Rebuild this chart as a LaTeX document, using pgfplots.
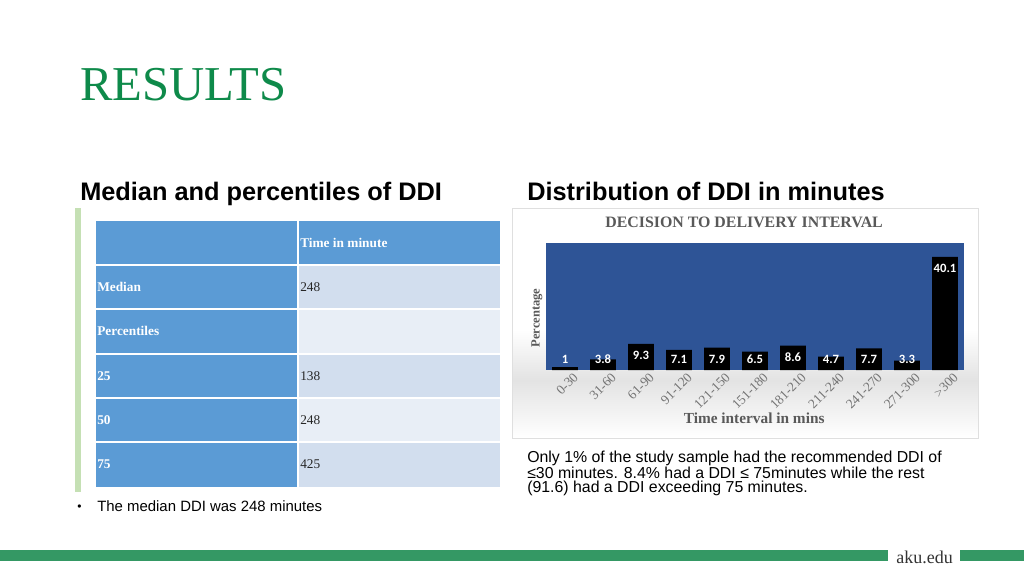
\documentclass[border=0pt]{standalone}
\usepackage{fontspec}
\setmainfont{Liberation Sans}
\newfontfamily\serif{Liberation Serif}
\newfontfamily\carlito{Carlito}
\usepackage{pgfplots}
\usepackage{pgfplotstable}
\pgfplotsset{compat=1.18}

\definecolor{titlegreen}{RGB}{14,138,74}
\definecolor{bandgreen}{RGB}{52,152,100}
\definecolor{sidegreen}{RGB}{197,224,180}
\definecolor{tblue}{RGB}{91,155,213}
\definecolor{rowA}{RGB}{210,222,238}
\definecolor{rowB}{RGB}{232,238,246}
\definecolor{chartblue}{RGB}{46,84,150}
\definecolor{labelgray}{RGB}{89,89,89}
\definecolor{tickgray}{RGB}{115,115,115}

% percentage of deliveries per interval
\pgfplotstableread{
x pct
0 1
1 3.8
2 9.3
3 7.1
4 7.9
5 6.5
6 8.6
7 4.7
8 7.7
9 3.3
10 40.1
}\ddidata

\begin{document}
\begin{tikzpicture}[x=0.75pt,y=-0.75pt]
\useasboundingbox[fill=white] (0,0) rectangle (1024,576);

% headings
\node[anchor=base west, inner sep=0, text=titlegreen,
  font=\serif\fontsize{36.5}{36}\selectfont] at (80,100) {RESULTS};
\node[anchor=base west, inner sep=0, font=\bfseries\fontsize{19}{19}\selectfont]
  at (80,200) {Median and percentiles of DDI};
\node[anchor=base west, inner sep=0, font=\bfseries\fontsize{19}{19}\selectfont]
  at (527,200) {Distribution of DDI in minutes};

% table on the left
\fill[sidegreen] (75,208) rectangle (81,492);
\fill[tblue] (96,221) rectangle (298,487);
\fill[tblue] (298,221) rectangle (500,265);
\fill[rowA] (298,265) rectangle (500,309);
\fill[rowB] (298,309) rectangle (500,354);
\fill[rowA] (298,354) rectangle (500,398);
\fill[rowB] (298,398) rectangle (500,442);
\fill[rowA] (298,442) rectangle (500,487);
\foreach \yy in {265,309,354,398,442}
  \draw[white, line width=0.8pt] (96,\yy) -- (500,\yy);
\draw[white, line width=0.8pt] (298,221) -- (298,487);
\foreach \yy/\lab/\val in {243/{}/{}, 287/Median/248, 331/Percentiles/{}, 376/25/138, 420/50/248, 464/75/425}{
  \node[anchor=west, inner sep=0, text=white, font=\serif\bfseries\fontsize{10}{12}\selectfont] at (97,\yy) {\lab};
  \node[anchor=west, inner sep=0, text=black!85, font=\serif\fontsize{10}{12}\selectfont] at (300,\yy) {\val};
}
\node[anchor=west, inner sep=0, text=white, font=\serif\bfseries\fontsize{10}{12}\selectfont] at (300,243) {Time in minute};

\node[anchor=base west, inner sep=0, font=\fontsize{9}{10}\selectfont] at (77,510) {\textbullet};
\node[anchor=base west, inner sep=0, font=\fontsize{11.2}{13}\selectfont] at (97,511) {The median DDI was 248 minutes};

% chart frame
\fill[white] (512,208) rectangle (978,330);
\shade[top color=white, bottom color=gray!22] (512,330) rectangle (978,380);
\shade[top color=gray!22, bottom color=white] (512,380) rectangle (978,438);
\draw[gray!25] (512,208) rectangle (978,438);

\begin{axis}[
  at={(409.5pt,-277.5pt)}, anchor=south west,
  width=313.5pt, height=95.25pt, scale only axis,
  xmin=-0.5, xmax=10.5, ymin=0, ymax=45,
  clip=false,
  axis background/.style={fill=chartblue},
  axis line style={draw=none},
  ybar, bar width=0.68,
  xtick={0,...,10},
  xticklabels={0-30,31-60,61-90,91-120,121-150,151-180,181-210,211-240,241-270,271-300,>300},
  x tick label style={rotate=45, anchor=north east, inner sep=0pt,
    xshift=3pt, yshift=-5pt,
    text=tickgray, font=\serif\fontsize{10}{10}\selectfont},
  major tick length=0pt,
  ytick=\empty,
  /pgf/number format/assume math mode=true,
  visualization depends on={y \as \rawy},
  nodes near coords={\pgfmathprintnumber{\pgfplotspointmeta}},
  every node near coord/.append style={anchor=center, text=white,
    font=\carlito\bfseries\fontsize{9.5}{10}\selectfont,
    yshift={(max(\rawy-4.07,3.72)-\rawy)*2.1167pt}},
  every axis title shift=0pt,
  title={DECISION TO DELIVERY INTERVAL},
  title style={at={(axis description cs:0.474,1.165)}, anchor=center,
    text=labelgray, font=\serif\bfseries\fontsize{11.9}{12}\selectfont},
  xlabel={Time interval in mins},
  xlabel style={at={(axis description cs:0.498,-0.378)}, anchor=center,
    text=labelgray, font=\serif\bfseries\fontsize{11.5}{12}\selectfont},
  ylabel={Percentage},
  ylabel style={at={(axis description cs:-0.0215,0.41)}, anchor=center,
    text=labelgray, font=\serif\bfseries\fontsize{9.4}{10}\selectfont},
]
\addplot[fill=black, draw=none] table[x=x, y=pct] {\ddidata};
\end{axis}

% note under the chart
\node[anchor=north west, inner sep=0, align=left,
  font=\fontsize{11.9}{10.65}\selectfont] at (527,450.5)
  {Only 1\% of the study sample had the recommended DDI of\\
   ≤30 minutes. 8.4\% had a DDI ≤ 75minutes while the rest\\
   (91.6) had a DDI exceeding 75 minutes.};

% footer band
\fill[bandgreen] (0,550) rectangle (888,561);
\fill[bandgreen] (960,550) rectangle (1024,561);
\node[anchor=base west, inner sep=0, text=black!80,
  font=\serif\fontsize{13.5}{14}\selectfont] at (896,563) {aku.edu};
\end{tikzpicture}
\end{document}
